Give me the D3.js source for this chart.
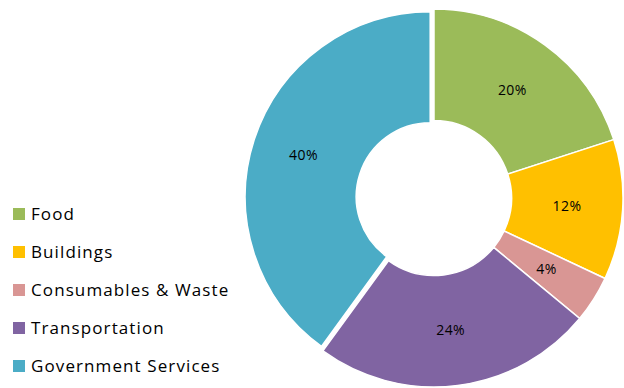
<!DOCTYPE html>
<html>
<head>
<meta charset="utf-8">
<script src="https://cdn.jsdelivr.net/npm/d3@7"></script>
<style>
  body { margin: 0; background: #fff; }
  text { font-family: "Open Sans", "Noto Sans", sans-serif; }
</style>
</head>
<body>
<div id="chart"></div>
<script>
var svgWidth = 624;
var svgHeight = 388;

// chart data
var categories = ["Food", "Buildings", "Consumables & Waste", "Transportation", "Government Services"];
var shares = [20, 12, 4, 24, 40];
var colors = ["#9BBB59", "#FFC000", "#D99694", "#8064A2", "#4BACC6"];
var exploded = "Government Services";

var svg = d3.select("#chart")
  .append("svg")
  .attr("width", svgWidth)
  .attr("height", svgHeight);

var cx = 434, cy = 198;
var outerR = 189, innerR = 77.5;

var data = categories.map(function(c, i) {
  return { name: c, value: shares[i], color: colors[i] };
});

var pie = d3.pie()
  .sort(null)
  .value(d => d.value);

var arcs = pie(data);

var arc = d3.arc().innerRadius(innerR).outerRadius(outerR);
var arcExploded = d3.arc().innerRadius(74).outerRadius(185);
var labelArc = d3.arc().innerRadius((innerR + outerR) / 2).outerRadius((innerR + outerR) / 2);

var chartGroup = svg.append("g")
  .attr("transform", `translate(${cx}, ${cy})`);

var offset = 4;

chartGroup.selectAll("path")
  .data(arcs)
  .enter()
  .append("path")
  .attr("d", d => d.data.name === exploded ? arcExploded(d) : arc(d))
  .attr("transform", function(d) {
    if (d.data.name !== exploded) return null;
    var mid = (d.startAngle + d.endAngle) / 2;
    return `translate(${Math.sin(mid) * offset}, ${-Math.cos(mid) * offset})`;
  })
  .attr("fill", d => d.data.color)
  .attr("stroke", "#fff")
  .attr("stroke-width", 1.5);

// percent labels
chartGroup.selectAll(".pct")
  .data(arcs)
  .enter()
  .append("text")
  .attr("class", "pct")
  .attr("transform", function(d) {
    var c = labelArc.centroid(d);
    if (d.data.name === exploded) {
      var mid = (d.startAngle + d.endAngle) / 2;
      c[0] += Math.sin(mid) * offset;
      c[1] -= Math.cos(mid) * offset;
    }
    return `translate(${c[0]}, ${c[1]})`;
  })
  .attr("text-anchor", "middle")
  .attr("dy", "0.35em")
  .attr("font-size", 14)
  .attr("letter-spacing", 0.4)
  .attr("fill", "#000")
  .text(d => d.data.value + "%");

// legend
var legend = svg.append("g")
  .attr("transform", "translate(13, 208)");

var rows = legend.selectAll("g")
  .data(data)
  .enter()
  .append("g")
  .attr("transform", (d, i) => `translate(0, ${i * 38})`);

rows.append("rect")
  .attr("width", 12)
  .attr("height", 12)
  .attr("fill", d => d.color);

rows.append("text")
  .attr("x", 18)
  .attr("y", 12)
  .attr("font-size", 17)
  .attr("letter-spacing", 1.1)
  .attr("fill", "#000")
  .text(d => d.name);
</script>
</body>
</html>
